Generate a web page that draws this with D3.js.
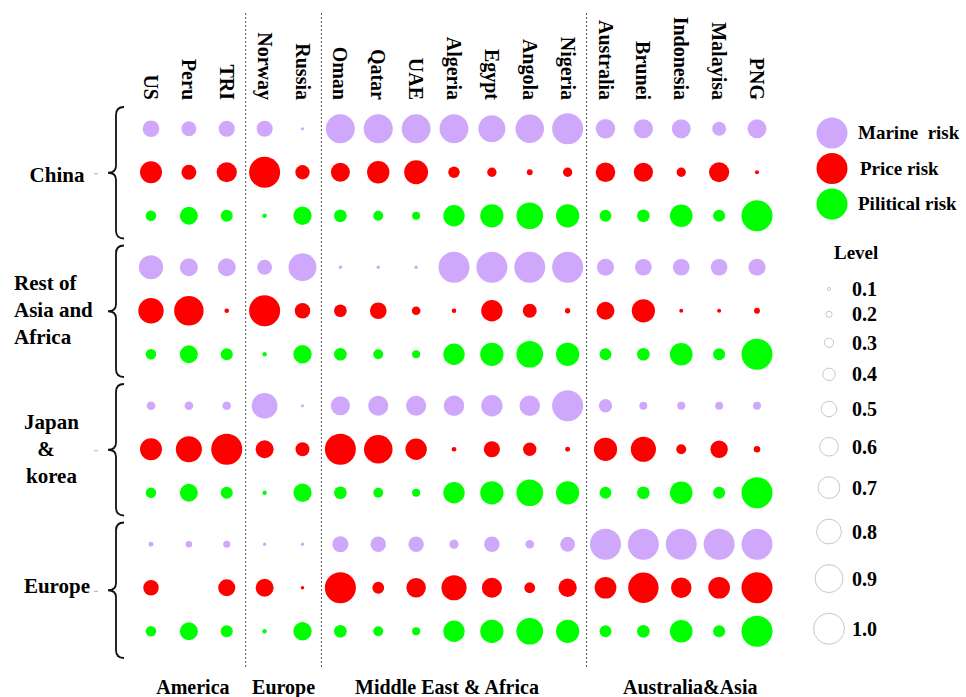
<!DOCTYPE html>
<html lang="en">
<head>
<meta charset="UTF-8">
<title>Risk levels by importer and exporter</title>
<script src="https://d3js.org/d3.v7.min.js"></script>
<style>
  body { margin: 0; background: #fff; }
  svg { display: block; font-family: "Liberation Serif", "Times New Roman", serif; font-weight: bold; }
</style>
</head>
<body>
<svg id="chart" width="966" height="697"></svg>
<script>
// exporters (columns) and the region each belongs to
const exporters = ["US", "Peru", "TRI", "Norway", "Russia", "Oman", "Qatar", "UAE", "Algeria", "Egypt",
                   "Angola", "Nigeria", "Australia", "Brunei", "Indonesia", "Malayisa", "PNG"];
const exporterRegion = ["America", "America", "America", "Europe", "Europe",
                        "Middle East & Africa", "Middle East & Africa", "Middle East & Africa", "Middle East & Africa",
                        "Middle East & Africa", "Middle East & Africa", "Middle East & Africa",
                        "Australia&Asia", "Australia&Asia", "Australia&Asia", "Australia&Asia", "Australia&Asia"];
const regions = ["America", "Europe", "Middle East & Africa", "Australia&Asia"];

// importers (row groups)
const importers = ["China", "Rest of Asia and Africa", "Japan & korea", "Europe"];
const importerLines = [["China"], ["Rest of", "Asia and", "Africa"], ["Japan", " &", "korea"], ["Europe"]];
const risks = ["Marine  risk", "Price risk", "Pilitical risk"];
const riskColors = ["#cfa8fc", "#ff0000", "#00ff00"];

// risk levels (0-1), one value per exporter
const chinaMarine     = [0.54, 0.48, 0.52, 0.52, 0.10, 0.93, 0.94, 0.93, 0.93, 0.87, 0.92, 1.00, 0.63, 0.62, 0.61, 0.45, 0.61];
const chinaPrice      = [0.71, 0.48, 0.65, 1.00, 0.46, 0.61, 0.72, 0.77, 0.37, 0.30, 0.19, 0.30, 0.63, 0.62, 0.30, 0.65, 0.13];
const chinaPolitical  = [0.34, 0.58, 0.39, 0.14, 0.59, 0.41, 0.32, 0.26, 0.69, 0.75, 0.86, 0.75, 0.38, 0.41, 0.73, 0.39, 1.00];

const restMarine      = [0.78, 0.58, 0.58, 0.48, 0.90, 0.11, 0.11, 0.11, 1.00, 1.00, 1.00, 1.00, 0.55, 0.54, 0.54, 0.54, 0.55];
const restPrice       = [0.82, 0.95, 0.15, 1.00, 0.50, 0.41, 0.54, 0.28, 0.15, 0.69, 0.45, 0.17, 0.58, 0.75, 0.13, 0.13, 0.19];
const restPolitical   = [0.34, 0.58, 0.39, 0.14, 0.59, 0.41, 0.32, 0.26, 0.69, 0.75, 0.86, 0.75, 0.38, 0.41, 0.73, 0.39, 1.00];

const japanMarine     = [0.28, 0.28, 0.28, 0.83, 0.10, 0.62, 0.65, 0.65, 0.66, 0.69, 0.66, 1.00, 0.43, 0.26, 0.26, 0.26, 0.26];
const japanPrice      = [0.71, 0.84, 1.00, 0.58, 0.45, 1.00, 0.92, 0.69, 0.15, 0.52, 0.43, 0.16, 0.75, 0.81, 0.32, 0.56, 0.21];
const japanPolitical  = [0.34, 0.58, 0.39, 0.14, 0.59, 0.41, 0.32, 0.26, 0.69, 0.75, 0.86, 0.75, 0.38, 0.41, 0.73, 0.39, 1.00];

const europeMarine    = [0.16, 0.21, 0.23, 0.11, 0.11, 0.52, 0.50, 0.50, 0.30, 0.50, 0.28, 0.48, 1.00, 1.00, 1.00, 1.00, 1.00];
const europePrice     = [0.50, 0.00, 0.55, 0.58, 0.11, 1.00, 0.38, 0.63, 0.81, 0.65, 0.35, 0.59, 0.70, 0.98, 0.66, 0.70, 1.00];
const europePolitical = [0.34, 0.58, 0.39, 0.14, 0.59, 0.41, 0.32, 0.26, 0.69, 0.75, 0.86, 0.75, 0.38, 0.41, 0.73, 0.39, 1.00];

const levels = [0.1, 0.2, 0.3, 0.4, 0.5, 0.6, 0.7, 0.8, 0.9, 1.0];
const levelLabels = ["0.1", "0.2", "0.3", "0.4", "0.5", "0.6", "0.7", "0.8", "0.9", "1.0"];

const series = [
  [chinaMarine, chinaPrice, chinaPolitical],
  [restMarine, restPrice, restPolitical],
  [japanMarine, japanPrice, japanPolitical],
  [europeMarine, europePrice, europePolitical]
];

const svg = d3.select("#chart");

const x = d3.scalePoint().domain(exporters).range([151, 757]);
const yGroup = d3.scaleBand().domain(importers).range([103, 657]);
const yRisk = d3.scalePoint().domain(risks).range([-43.5, 43.5]);
const r = d3.scaleLinear().domain([0, 1]).range([0, 15.5]);

const cy = (imp, risk) => yGroup(imp) + yGroup.bandwidth() / 2 + yRisk(risk);

// dotted separators between exporter regions
const step = x.step();
const sepX = exporters
  .filter((e, i) => i > 0 && exporterRegion[i] !== exporterRegion[i - 1])
  .map(e => x(e) - step / 2);
svg.append("g").selectAll("line").data(sepX).join("line")
  .attr("x1", d => d).attr("x2", d => d)
  .attr("y1", 13).attr("y2", 668)
  .attr("stroke", "#555").attr("stroke-width", 1)
  .attr("stroke-dasharray", "2,2");

// column labels, read top to bottom
svg.append("g").selectAll("text").data(exporters).join("text")
  .attr("transform", d => `translate(${x(d)},100) rotate(90)`)
  .attr("text-anchor", "end")
  .attr("dy", "0.35em")
  .attr("font-size", 20)
  .text(d => d);

// bubbles
const cells = [];
importers.forEach((imp, gi) => {
  risks.forEach((risk, ri) => {
    exporters.forEach((e, ei) => {
      cells.push({ imp, risk, ri, e, v: series[gi][ri][ei] });
    });
  });
});
svg.append("g").selectAll("circle").data(cells.filter(d => d.v > 0)).join("circle")
  .attr("cx", d => x(d.e))
  .attr("cy", d => cy(d.imp, d.risk))
  .attr("r", d => r(d.v))
  .attr("fill", d => riskColors[d.ri]);

// braces and row labels
const braceX = 116;
const labelShift = [3, -1, 0, -2];
importers.forEach((imp, gi) => {
  const y0 = yGroup(imp) + 4, y1 = yGroup(imp) + yGroup.bandwidth() - 3 + (gi === 3 ? 4 : 0);
  const ym = (y0 + y1) / 2;
  const p = d3.path();
  p.moveTo(braceX + 8, y0);
  p.quadraticCurveTo(braceX, y0, braceX, y0 + 8);
  p.lineTo(braceX, ym - 7);
  p.quadraticCurveTo(braceX, ym, braceX - 8, ym);
  p.quadraticCurveTo(braceX, ym, braceX, ym + 7);
  p.lineTo(braceX, y1 - 8);
  p.quadraticCurveTo(braceX, y1, braceX + 8, y1);
  svg.append("path").attr("d", p.toString())
    .attr("fill", "none").attr("stroke", "#111").attr("stroke-width", 1.8);

  if (gi !== 1) {
    svg.append("line").attr("x1", 94).attr("x2", 98).attr("y1", ym + 1).attr("y2", ym + 1)
      .attr("stroke", "#aaa").attr("stroke-width", 1);
  }

  const lines = importerLines[gi];
  const t = svg.append("text").attr("font-size", 21).attr("xml:space", "preserve");
  const lh = 27;
  const mid = yGroup(imp) + yGroup.bandwidth() / 2;
  lines.forEach((ln, li) => {
    const ty = mid + (li - (lines.length - 1) / 2) * lh + 7 + labelShift[gi];
    if (gi === 1) {
      t.append("tspan").attr("x", 14).attr("y", ty).text(ln);
    } else if (gi === 2) {
      t.append("tspan").attr("x", [24, 32, 26][li]).attr("y", ty).text(ln);
    } else {
      t.append("tspan").attr("x", 57).attr("y", ty).attr("text-anchor", "middle").text(ln);
    }
  });
});

// region labels at bottom
const regionShift = [4, 0, -7, 9];
svg.append("g").selectAll("text").data(regions).join("text")
  .attr("x", (reg, i) => {
    const cols = exporters.filter((e, j) => exporterRegion[j] === reg);
    return (x(cols[0]) + x(cols[cols.length - 1])) / 2 + regionShift[i];
  })
  .attr("y", 694)
  .attr("text-anchor", "middle")
  .attr("font-size", 20)
  .text(d => d);

// risk legend
const legY = d3.scalePoint().domain(risks).range([133, 204]);
const leg = svg.append("g");
leg.selectAll("circle").data(risks).join("circle")
  .attr("cx", 832).attr("cy", d => legY(d)).attr("r", 15.5)
  .attr("fill", (d, i) => riskColors[i]);
leg.selectAll("text").data(risks).join("text")
  .attr("x", (d, i) => i === 1 ? 860 : 858)
  .attr("y", d => legY(d)).attr("dy", "0.33em")
  .attr("font-size", 19)
  .attr("xml:space", "preserve")
  .style("white-space", "pre")
  .text(d => d);

// level legend
svg.append("text").attr("x", 834).attr("y", 253).attr("dy", "0.33em")
  .attr("font-size", 19).text("Level");
let ly = 289;
const levY = levels.map((v, i) => {
  if (i > 0) ly += r(levels[i - 1]) + r(v) + 20.7;
  return ly;
});
const lev = svg.append("g");
lev.selectAll("circle").data(levels).join("circle")
  .attr("cx", 829).attr("cy", (d, i) => levY[i]).attr("r", d => r(d))
  .attr("fill", "#fff").attr("stroke", "#c8c8c8").attr("stroke-width", 1);
lev.selectAll("text").data(levelLabels).join("text")
  .attr("x", 852).attr("y", (d, i) => levY[i]).attr("dy", "0.35em")
  .attr("font-size", 20).text(d => d);
</script>
</body>
</html>
